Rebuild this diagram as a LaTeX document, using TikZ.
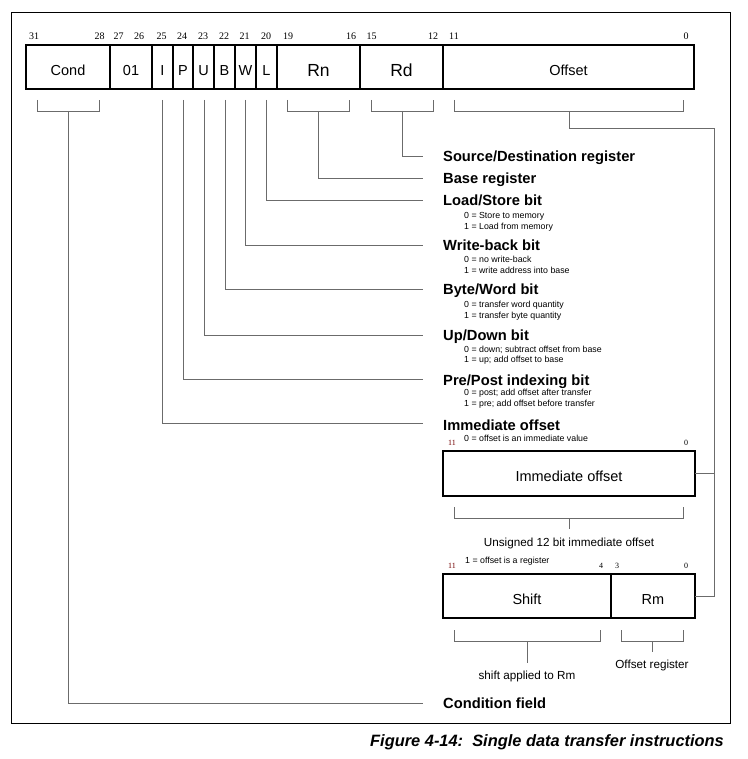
\documentclass[tikz,border=0pt]{standalone}
\usepackage{fontspec}
\setmainfont{Liberation Sans}
\newfontfamily\numfont{Liberation Serif}
\begin{document}
\begin{tikzpicture}[x=1pt,y=-1pt,
  conn/.style={draw=black!58, line width=0.9pt},
  frame/.style={draw=black, line width=0.9pt},
  field/.style={draw=black, line width=2.4pt, rectangle, inner sep=0pt, outer sep=0pt,
                minimum height=44pt, text height=16.4pt, text depth=0pt,
                font=\fontsize{14.5}{16}\selectfont},
  bigfield/.style={field, text height=18.5pt, font=\fontsize{17.5}{19}\selectfont},
  bitnum/.style={inner sep=0pt, font=\numfont\fontsize{10}{11}\selectfont},
  smallbit/.style={inner sep=0pt, font=\numfont\fontsize{8}{9}\selectfont},
  head/.style={anchor=west, inner sep=0pt, text height=10.5pt, text depth=0pt,
               font=\fontsize{14.7}{16}\selectfont\bfseries},
  sub/.style={anchor=west, inner sep=0pt, text height=6.3pt, text depth=0pt,
              font=\fontsize{8.8}{10}\selectfont},
  note/.style={inner sep=0pt, text height=8.4pt, text depth=0pt,
               font=\fontsize{11.7}{13}\selectfont}]
\useasboundingbox (0,0) rectangle (747,759);

% surrounding frame
\draw[frame] (11,12) rectangle (730,723);

% instruction word fields
\node[field, minimum width=84pt] (cond) at (68,67) {Cond};
\node[field, minimum width=42pt] (ops) at (131,67) {01};
\node[field, minimum width=21pt] (fI) at (162.5,67) {I};
\node[field, minimum width=20pt] (fP) at (183,67) {P};
\node[field, minimum width=21pt] (fU) at (203.5,67) {U};
\node[field, minimum width=21pt] (fB) at (224.5,67) {B};
\node[field, minimum width=21pt] (fW) at (245.5,67) {W};
\node[field, minimum width=21pt] (fL) at (266.5,67) {L};
\node[bigfield, minimum width=83pt] (rn) at (318.5,67) {Rn};
\node[bigfield, minimum width=83pt] (rd) at (401.5,67) {Rd};
\node[field, minimum width=251pt] (off) at (568.5,67) {Offset};

% bit positions
\foreach \x/\b in {34/31, 99.5/28, 118.5/27, 139/26, 161.5/25, 182/24, 203/23,
                   224/22, 244.5/21, 266/20, 288/19, 351/16, 371.5/15, 433/12,
                   454/11, 686/0}
  \node[bitnum] (bit\b) at (\x,36) {\b};

% brackets under multi-bit fields
\draw[conn] (37,100) -- (37,111) -- (99,111) -- (99,100);
\draw[conn] (287,100) -- (287,111) -- (349,111) -- (349,100);
\draw[conn] (371,100) -- (371,111) -- (433,111) -- (433,100);
\draw[conn] (454,100) -- (454,111) -- (683,111) -- (683,100);
\coordinate (cCond) at (68,111);
\coordinate (cRn) at (318,111);
\coordinate (cRd) at (402,111);
\coordinate (cOff) at (569,111);
\coordinate (tI) at (162,100);
\coordinate (tP) at (183,100);
\coordinate (tU) at (204,100);
\coordinate (tB) at (225,100);
\coordinate (tW) at (245,100);
\coordinate (tL) at (266,100);

% field descriptions
\node[head] (hSrc) at (443,156) {Source/Destination register};
\node[head] (hBase) at (443,178) {Base register};
\node[head] (hLS) at (443,200) {Load/Store bit};
\node[sub] (sLS0) at (464,215) {0 = Store to memory};
\node[sub] (sLS1) at (464,226) {1 = Load from memory};
\node[head] (hWB) at (443,245) {Write-back bit};
\node[sub] (sWB0) at (464,259) {0 = no write-back};
\node[sub] (sWB1) at (464,270) {1 = write address into base};
\node[head] (hBW) at (443,289) {Byte/Word bit};
\node[sub] (sBW0) at (464,304) {0 = transfer word quantity};
\node[sub] (sBW1) at (464,315) {1 = transfer byte quantity};
\node[head] (hUD) at (443,335) {Up/Down bit};
\node[sub] (sUD0) at (464,349) {0 = down; subtract offset from base};
\node[sub] (sUD1) at (464,359.5) {1 = up; add offset to base};
\node[head] (hPP) at (443,380) {Pre/Post indexing bit};
\node[sub] (sPP0) at (464,392) {0 = post; add offset after transfer};
\node[sub] (sPP1) at (464,403) {1 = pre; add offset before transfer};
\node[head] (hIO) at (443,425) {Immediate offset};
\node[sub] (sIO0) at (464,438) {0 = offset is an immediate value};
\node[head] (hCF) at (443,703) {Condition field};

% connector ends in front of the descriptions
\coordinate (eSrc) at (423,156);
\coordinate (eBase) at (423,178);
\coordinate (eLS) at (423,200);
\coordinate (eWB) at (423,245);
\coordinate (eBW) at (423,289);
\coordinate (eUD) at (423,335);
\coordinate (ePP) at (423,379.5);
\coordinate (eIO) at (423,423.5);
\coordinate (eCF) at (423,703);

\draw[conn] (cRd) |- (eSrc);
\draw[conn] (cRn) |- (eBase);
\draw[conn] (tL) |- (eLS);
\draw[conn] (tW) |- (eWB);
\draw[conn] (tB) |- (eBW);
\draw[conn] (tU) |- (eUD);
\draw[conn] (tP) |- (ePP);
\draw[conn] (tI) |- (eIO);
\draw[conn] (cCond) |- (eCF);

% immediate form of the offset
\node[smallbit, text=red!45!black] (ib11) at (452,443) {11};
\node[smallbit] (ib0) at (686,443) {0};
\node[field, minimum width=252pt, minimum height=45pt] (imm) at (569,473.5) {Immediate offset};
\draw[conn] (454,507) -- (454,518) -- (683,518) -- (683,507);
\coordinate (cImm) at (569,518);
\node[note] (nImm) at (569,542) {Unsigned 12 bit immediate offset};
\draw[conn] (cImm) -- (569,529);

% register form of the offset
\node[sub] (sReg1) at (465,560) {1 = offset is a register};
\node[smallbit, text=red!45!black] (rb11) at (452,566) {11};
\node[smallbit] (rb4) at (601,566) {4};
\node[smallbit] (rb3) at (617,566) {3};
\node[smallbit] (rb0) at (686,566) {0};
\node[field, minimum width=168pt] (shift) at (527,596) {Shift};
\node[field, minimum width=84pt] (rm) at (653,596) {Rm};
\draw[conn] (454,630) -- (454,641) -- (600,641) -- (600,630);
\draw[conn] (621,630) -- (621,641) -- (683,641) -- (683,630);
\coordinate (cShift) at (527,641);
\coordinate (cRm) at (652,641);
\node[note] (nShift) at (527,675) {shift applied to Rm};
\node[note] (nRm) at (652,664) {Offset register};
\draw[conn] (cShift) -- (527,663);
\draw[conn] (cRm) -- (652,652);

% offset field routed to both encodings
\coordinate (jTop) at (714,128);
\draw[conn] (cOff) |- (jTop) |- (rm.east);
\draw[conn] (imm.east) -- (imm.east -| jTop);

% figure caption
\node[anchor=east, inner sep=0pt, text height=11.8pt, text depth=0pt,
      font=\fontsize{16.4}{18}\selectfont\bfseries\itshape] (cap) at (724,741)
  {Figure 4-14:\ \ Single data transfer instructions};
\end{tikzpicture}
\end{document}
